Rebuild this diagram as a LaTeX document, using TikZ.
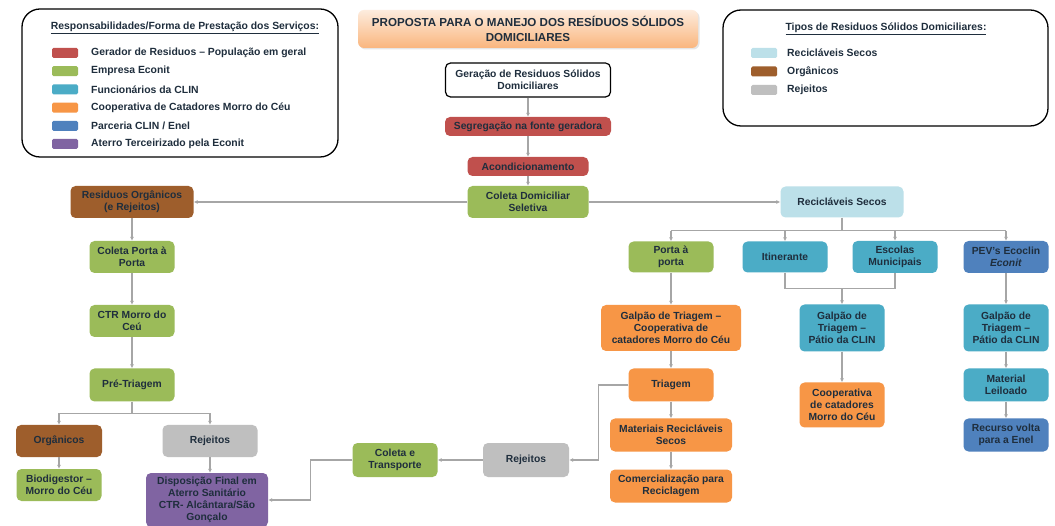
\documentclass[tikz,border=0pt]{standalone}
\usepackage{fontspec}
\setmainfont{Liberation Sans}
\usetikzlibrary{arrows.meta,shadows}
\definecolor{verm}{HTML}{C0504D}
\definecolor{verde}{HTML}{9BBB59}
\definecolor{ciano}{HTML}{4BACC6}
\definecolor{laranja}{HTML}{F79646}
\definecolor{azul}{HTML}{4F81BD}
\definecolor{roxo}{HTML}{8064A2}
\definecolor{claro}{HTML}{BCE0E9}
\definecolor{marrom}{HTML}{9E5E2C}
\definecolor{cinza}{HTML}{BFBFBF}
\definecolor{cinzalinha}{HTML}{A6A6A6}
\definecolor{texto}{HTML}{1F2E3D}
\newcommand{\fonteCaixa}{\fontsize{10.3}{11.8}\selectfont\bfseries}
\tikzset{
  etapa/.style={rounded corners=5pt,align=center,inner sep=0pt,text=texto,font=\fonteCaixa},
  tam/.style 2 args={minimum width=#1pt,minimum height=#2pt},
  gerador/.style={etapa,fill=verm},
  econit/.style={etapa,fill=verde},
  clin/.style={etapa,fill=ciano},
  coop/.style={etapa,fill=laranja},
  parceria/.style={etapa,fill=azul},
  aterro/.style={etapa,fill=roxo},
  secos/.style={etapa,fill=claro},
  organico/.style={etapa,fill=marrom},
  rejeito/.style={etapa,fill=cinza},
  linha/.style={draw=cinzalinha,line width=1.3pt},
  seta/.style={linha,-{Latex[length=4pt,width=4pt]}},
  quadro/.style={draw=black,line width=1.3pt,rounded corners=18pt},
  amostra/.style={rounded corners=1.5pt,minimum width=26pt,minimum height=10pt,inner sep=0pt},
  legenda/.style={anchor=west,font=\fontsize{10.4}{12}\selectfont\bfseries,text=texto,inner sep=0pt}
}
\begin{document}
\begin{tikzpicture}[x=1pt,y=-1pt]
  \useasboundingbox[fill=white] (0,0) rectangle (1055,526);
  % legendas
  \draw[quadro] (22,9) rectangle (338,157);
  \node[legenda,anchor=center] (titresp) at (185,28) {\underline{Responsabilidades/Forma de Prestação dos Serviços:}};
  \foreach \cor/\txt [count=\i] in {verm/{Gerador de Residuos -- População em geral},verde/{Empresa Econit},ciano/{Funcionários da CLIN},laranja/{Cooperativa de Catadores Morro do Céu},azul/{Parceria CLIN / Enel},roxo/{Aterro Terceirizado pela Econit}}{
    \node[amostra,fill=\cor] (resp\i) at (65,{53+18.2*(\i-1)}) {};
    \node[legenda] at (91,{53+18.2*(\i-1)}) {\txt};
  }
  \draw[quadro] (723,10) rectangle (1048,126);
  \node[legenda,anchor=center] (tittipo) at (886,29) {\underline{Tipos de Residuos Sólidos Domiciliares:}};
  \foreach \cor/\txt [count=\i] in {claro/{Recicláveis Secos},marrom/{Orgânicos},cinza/{Rejeitos}}{
    \node[amostra,fill=\cor] (tipo\i) at (764,{53+18.5*(\i-1)}) {};
    \node[legenda] at (787,{53+18.5*(\i-1)}) {\txt};
  }
  \node[etapa,tam={340}{38},rounded corners=6pt,top color=laranja!18,bottom color=laranja!70,font=\fontsize{11.6}{14.5}\selectfont\bfseries,drop shadow={opacity=0.2,shadow xshift=1.5pt,shadow yshift=-1.5pt}] (titulo) at (528,29) {PROPOSTA PARA O MANEJO DOS RESÍDUOS SÓLIDOS\\DOMICILIARES};

  % tronco central
  \node[etapa,tam={165}{34},fill=white,draw=black,line width=1.2pt] (gera) at (528,80) {Geração de Residuos Sólidos\\Domiciliares};
  \node[gerador,tam={166}{19}] (segreg) at (528,126.5) {Segregação na fonte geradora};
  \node[gerador,tam={121}{19}] (acond) at (528,166.5) {Acondicionamento};
  \node[econit,tam={121}{32}] (coleta) at (528,202) {Coleta Domiciliar\\Seletiva};

  % orgânicos
  \node[organico,tam={123}{32}] (resorg) at (132,202) {Residuos Orgânicos\\(e Rejeitos)};
  \node[econit,tam={85}{32}] (portaporta) at (132,257) {Coleta Porta à\\Porta};
  \node[econit,tam={85}{32}] (ctr) at (132,321) {CTR Morro do\\Ceú};
  \node[econit,tam={85}{33}] (pretri) at (132,385) {Pré-Triagem};
  \node[organico,tam={86}{32}] (organ) at (59,441) {Orgânicos};
  \node[rejeito,tam={95}{32}] (rejesq) at (210,441) {Rejeitos};
  \node[econit,tam={85}{32}] (biodig) at (59,485) {Biodigestor --\\Morro do Céu};
  \node[aterro,tam={122}{54}] (dispos) at (207,500) {Disposição Final em\\Aterro Sanitário\\CTR- Alcântara/São\\Gonçalo};
  \node[econit,tam={85}{34}] (coltransp) at (395,460) {Coleta e\\Transporte};
  \node[rejeito,tam={86}{34}] (rejmeio) at (526,460) {Rejeitos};

  % recicláveis
  \node[secos,tam={123}{31}] (recsec) at (842,202) {Recicláveis Secos};
  \node[econit,tam={85}{31}] (porta) at (671,257) {Porta à\\porta};
  \node[clin,tam={85}{31}] (itin) at (785,257) {Itinerante};
  \node[clin,tam={85}{32}] (escolas) at (895,257) {Escolas\\Municipais};
  \node[parceria,tam={85}{32}] (pev) at (1006,257) {PEV’s Ecoclin\\\textit{Econit}};
  \node[coop,tam={140}{46}] (galpcoop) at (671,328) {Galpão de Triagem --\\Cooperativa de\\catadores Morro do Céu};
  \node[coop,tam={85}{33}] (triagem) at (671,385) {Triagem};
  \node[coop,tam={122}{33}] (materiais) at (671,435) {Materiais Recicláveis\\Secos};
  \node[coop,tam={122}{33}] (comerc) at (671,486) {Comercialização para\\Reciclagem};
  \node[clin,tam={85}{47}] (galpclin) at (842,328) {Galpão de\\Triagem --\\Pátio da CLIN};
  \node[coop,tam={85}{45}] (coopclin) at (842,405) {Cooperativa\\de catadores\\Morro do Céu};
  \node[clin,tam={85}{47}] (galpdir) at (1006,328) {Galpão de\\Triagem --\\Pátio da CLIN};
  \node[clin,tam={85}{33}] (leiloado) at (1006,385) {Material\\Leiloado};
  \node[parceria,tam={85}{33}] (recurso) at (1006,435) {Recurso volta\\para a Enel};

  % conexões
  \draw[seta] (gera) -- (segreg);
  \draw[seta] (segreg) -- (acond);
  \draw[seta] (acond) -- (coleta);
  \draw[seta] (coleta) -- (resorg);
  \draw[seta] (coleta) -- (recsec);
  \draw[seta] (resorg) -- (portaporta);
  \draw[seta] (portaporta) -- (ctr);
  \draw[seta] (ctr) -- (pretri);
  \draw[linha] (pretri.south) -- ++(0,12) coordinate (ramoesq);
  \draw[seta] (ramoesq) -| (organ.north);
  \draw[seta] (ramoesq) -| (rejesq.north);
  \draw[seta] (organ) -- (biodig);
  \draw[seta] (rejesq.south) -- (rejesq.south |- dispos.north);
  \draw[linha] (recsec.south) -- ++(0,13) coordinate (ramodir);
  \draw[linha] (porta.north |- ramodir) -- (pev.north |- ramodir);
  \foreach \n in {porta,itin,escolas,pev}
    \draw[seta] (\n.north |- ramodir) -- (\n.north);
  \draw[seta] (porta) -- (galpcoop);
  \draw[seta] (galpcoop) -- (triagem);
  \draw[seta] (triagem) -- (materiais);
  \draw[seta] (materiais) -- (comerc);
  \draw[seta] (triagem.west) -- ++(-30,0) |- (rejmeio.east);
  \draw[seta] (rejmeio) -- (coltransp);
  \draw[seta] (coltransp.west) -- ++(-42,0) |- (dispos.east);
  \draw[linha] (itin.south) -- ++(0,16) coordinate (junta) -| (escolas.south);
  \draw[seta] (galpclin.north |- junta) -- (galpclin.north);
  \draw[seta] (galpclin) -- (coopclin);
  \draw[seta] (pev) -- (galpdir);
  \draw[seta] (galpdir) -- (leiloado);
  \draw[seta] (leiloado) -- (recurso);
\end{tikzpicture}
\end{document}
